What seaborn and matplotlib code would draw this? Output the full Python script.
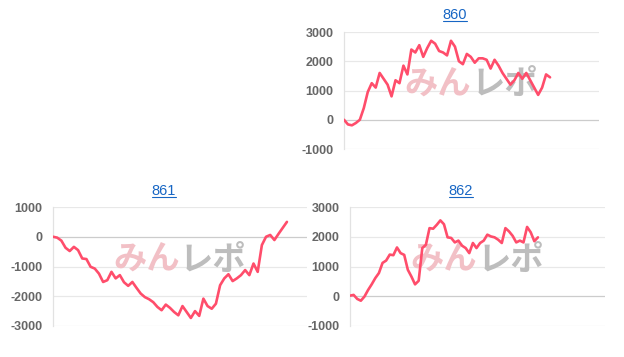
import numpy as np
import pandas as pd
import matplotlib
matplotlib.use("Agg")
import matplotlib.pyplot as plt
import seaborn as sns
from matplotlib.lines import Line2D

# ---- data ----
titles = ["860", "861", "862"]

s860 = [0, -160, -190, -110, 0, 400, 950, 1250, 1100, 1600,
        1400, 1200, 800, 1350, 1250, 1850, 1550, 2400, 2300, 2550,
        2150, 2450, 2700, 2600, 2350, 2300, 2200, 2700, 2500, 2000,
        1900, 2250, 2150, 1950, 2100, 2100, 2050, 1750, 2050, 1850,
        1600, 1400, 1200, 1350, 1600, 1400, 1600, 1350, 1100, 850,
        1100, 1550, 1450]

s861 = [0, -30, -130, -370, -480, -340, -450, -730, -750, -1010,
        -1070, -1240, -1520, -1460, -1180, -1400, -1290, -1530, -1650, -1520,
        -1720, -1910, -2030, -2100, -2200, -2360, -2470, -2280, -2390, -2530,
        -2640, -2330, -2530, -2730, -2500, -2660, -2080, -2330, -2420, -2250,
        -1630, -1400, -1260, -1490, -1400, -1290, -1120, -1290, -900, -1180,
        -280, 0, 60, -110, 100, 300, 500]

s862 = [20, 45, -90, -150, -10, 210, 400, 610, 780, 1120,
        1200, 1400, 1380, 1640, 1450, 1390, 890, 660, 400, 520,
        1620, 1730, 2290, 2270, 2400, 2550, 2420, 1980, 1960, 1810,
        1870, 1700, 1620, 1450, 1790, 1620, 1790, 1870, 2070, 2010,
        1980, 1900, 1790, 2290, 2180, 2030, 1810, 1870, 1810, 2330,
        2150, 1850, 1980]

ticks_a = [-1000, 0, 1000, 2000, 3000]
ticks_b = [-3000, -2000, -1000, 0, 1000]

watermark_left = "みん"
watermark_right = "レポ"

# ---- style ----
sns.set_theme(style="white")
plt.rcParams["font.family"] = ["Liberation Sans", "Noto Sans CJK JP", "DejaVu Sans"]
plt.rcParams["axes.unicode_minus"] = False

LINE = "#ff4d6b"
GRID = "#e8e8e8"
ZERO = "#cccccc"
AXIS = "#e2e2e2"
LINK = "#1766c4"

W, H = 624, 357
fig = plt.figure(figsize=(W / 100, H / 100), dpi=100)
fig.patch.set_facecolor("white")

# (values, ticks, axes rect px: left, top, right, bottom, data fraction, title x px, title y px)
panels = [
    (s860, ticks_a, (344, 32, 599, 149), 0.808, 455, 15),
    (s861, ticks_b, (53, 207, 307, 326), 0.921, 164, 191),
    (s862, ticks_a, (350, 207, 605, 326), 0.737, 461, 191),
]

title_artists = []
for title, (vals, ticks, (l, t, r, b), frac, tx, ty) in zip(titles, panels):
    ax = fig.add_axes([l / W, 1 - b / H, (r - l) / W, (b - t) / H])
    ax.set_facecolor("white")
    df = pd.DataFrame({"x": np.arange(len(vals)), "y": vals})

    # watermark
    ax.text(0.5, 0.55, watermark_left, transform=ax.transAxes, ha="right", va="center",
            fontsize=24, fontweight="bold", color="#f2c0c6",
            family=["Noto Sans CJK JP", "DejaVu Sans"], zorder=1)
    ax.text(0.5, 0.55, watermark_right, transform=ax.transAxes, ha="left", va="center",
            fontsize=24, fontweight="bold", color="#bdbdbd",
            family=["Noto Sans CJK JP", "DejaVu Sans"], zorder=1)

    for tk in ticks:
        ax.axhline(tk, color=ZERO if tk == 0 else GRID, lw=0.9, zorder=0.5)

    sns.lineplot(data=df, x="x", y="y", ax=ax, color=LINE, linewidth=1.9, zorder=3)

    ax.set_xlim(0, (len(vals) - 1) / frac)
    ax.set_ylim(ticks[0], ticks[-1])
    ax.set_yticks(ticks)
    ax.set_yticklabels([str(v) for v in ticks])
    ax.set_xticks([])
    ax.set_xlabel("")
    ax.set_ylabel("")
    ax.grid(False)
    for side in ["top", "right", "bottom"]:
        ax.spines[side].set_visible(False)
    ax.spines["left"].set_color(AXIS)
    ax.spines["left"].set_linewidth(0.9)
    ax.tick_params(axis="y", length=4.5, width=0.8, color=AXIS, pad=3,
                   labelsize=9, labelcolor="#666666")
    for lab in ax.get_yticklabels():
        lab.set_fontweight("bold")

    tt = fig.text(tx / W, 1 - ty / H, title, ha="center", va="center",
                  fontsize=10.5, color=LINK)
    title_artists.append(tt)

# underline the titles (they are links in the original)
fig.canvas.draw()
renderer = fig.canvas.get_renderer()
for tt in title_artists:
    bb = tt.get_window_extent(renderer)
    yb = bb.y0 + 1.0
    fig.add_artist(Line2D([bb.x0 / W, bb.x1 / W], [yb / H, yb / H],
                          transform=fig.transFigure, color=LINK, lw=0.8))

fig.savefig("out.png", dpi=100, facecolor="white")
